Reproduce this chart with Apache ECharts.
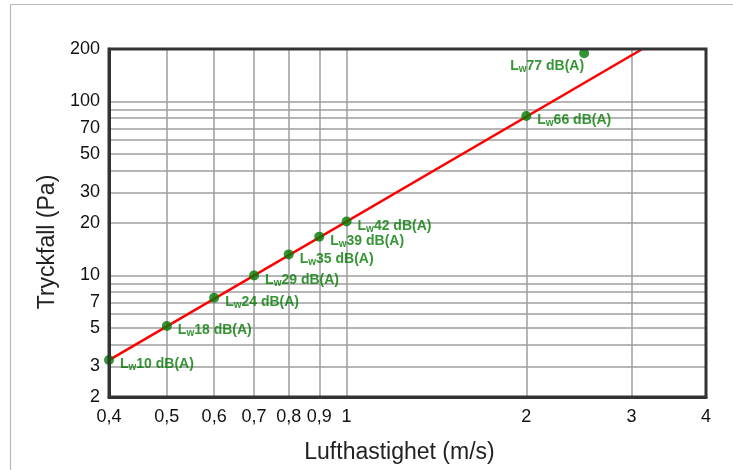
<!DOCTYPE html>
<html>
<head>
<meta charset="utf-8">
<script src="https://cdn.jsdelivr.net/npm/echarts@6/dist/echarts.min.js"></script>
<style>
html,body{margin:0;padding:0;background:#fff;}
#c{width:733px;height:470px;}
</style>
</head>
<body>
<div id="c"></div>
<script>
// Data
const velocity = [0.4, 0.5, 0.6, 0.7, 0.8, 0.9, 1, 2, 2.5];
const pressure = [3.26, 5.12, 7.44, 10.0, 13.2, 16.7, 20.4, 82.4, 189];
const soundLevel = [10, 18, 24, 29, 35, 39, 42, 66, 77];
const lineVelocity = [0.4, 3.13];
const linePressure = [3.26, 200];
const xGridValues = [0.5, 0.6, 0.7, 0.8, 0.9, 1, 2, 3];
const xLabelValues = [0.4, 0.5, 0.6, 0.7, 0.8, 0.9, 1, 2, 3, 4];
const yGridValues = [3, 4, 5, 6, 7, 8, 9, 10, 20, 30, 40, 50, 60, 70, 80, 90, 100];
const yLabelValues = [2, 3, 5, 7, 10, 20, 30, 50, 70, 100, 200];

const FONT = 'Liberation Sans, Arial, sans-serif';
const GREEN = '#037a03';
const chart = echarts.init(document.getElementById('c'), null, {renderer: 'canvas'});

const labelRich = {
  a: {fontFamily: FONT, fontSize: 14, fontWeight: 'bold', color: GREEN, lineHeight: 16},
  b: {fontFamily: FONT, fontSize: 10, fontWeight: 'bold', color: GREEN, lineHeight: 10, verticalAlign: 'bottom'}
};

const points = velocity.map((v, i) => {
  const item = {value: [v, pressure[i]], name: String(soundLevel[i])};
  if (i === velocity.length - 1) {
    item.label = {position: [5, 13], align: 'right', verticalAlign: 'middle'};
  }
  return item;
});

const option = {
  animation: false,
  backgroundColor: '#fff',
  grid: {left: 109, top: 49, right: 27, bottom: 73, show: true, borderColor: '#333', borderWidth: 3, backgroundColor: 'transparent', z: 5},
  graphic: [
    {type: 'line', shape: {x1: 10.5, y1: 4.5, x2: 733, y2: 4.5}, style: {stroke: '#b8b8b8', lineWidth: 1.2}, z: 100},
    {type: 'line', shape: {x1: 10.5, y1: 4.5, x2: 10.5, y2: 470}, style: {stroke: '#b8b8b8', lineWidth: 1.2}, z: 100}
  ],
  xAxis: {
    type: 'log', logBase: 10, min: 0.4, max: 4,
    name: 'Lufthastighet (m/s)', nameLocation: 'middle', nameGap: 44,
    nameTextStyle: {fontFamily: FONT, fontSize: 23, color: '#222', padding: [0, 16, 0, 0]},
    axisLine: {show: true, lineStyle: {color: '#333', width: 3}},
    axisTick: {show: false, customValues: xGridValues},
    axisLabel: {customValues: xLabelValues, fontFamily: FONT, fontSize: 18, color: '#111', margin: 11,
      formatter: v => String(+v.toFixed(2)).replace('.', ',')},
    splitLine: {show: true, lineStyle: {color: '#9e9e9e', width: 1.5}},
    minorSplitLine: {show: false}
  },
  yAxis: {
    type: 'log', logBase: 10, min: 2, max: 200,
    name: 'Tryckfall (Pa)', nameLocation: 'middle', nameGap: 47,
    nameTextStyle: {fontFamily: FONT, fontSize: 23, color: '#222', padding: [0, 38, 0, 0]},
    axisLine: {show: true, lineStyle: {color: '#333', width: 3}},
    axisTick: {show: false, customValues: yGridValues},
    axisLabel: {customValues: yLabelValues, fontFamily: FONT, fontSize: 18, color: '#111', margin: 9,
      formatter: v => String(+v.toFixed(2))},
    splitLine: {show: true, lineStyle: {color: '#9e9e9e', width: 1.5}}
  },
  series: [
    {
      type: 'line',
      data: lineVelocity.map((v, i) => [v, linePressure[i]]),
      showSymbol: false, symbol: 'none',
      lineStyle: {color: '#ff0000', width: 2.5},
      clip: true, z: 3, silent: true
    },
    {
      type: 'scatter',
      data: points,
      symbol: 'circle', symbolSize: 10,
      itemStyle: {color: GREEN},
      clip: false, z: 4,
      label: {
        show: true, position: 'right', distance: 6, offset: [0, 4.5],
        formatter: p => '{a|L}{b|w}{a|' + p.name + ' dB(A)}',
        rich: labelRich
      }
    }
  ]
};
chart.setOption(option);
</script>
</body>
</html>
